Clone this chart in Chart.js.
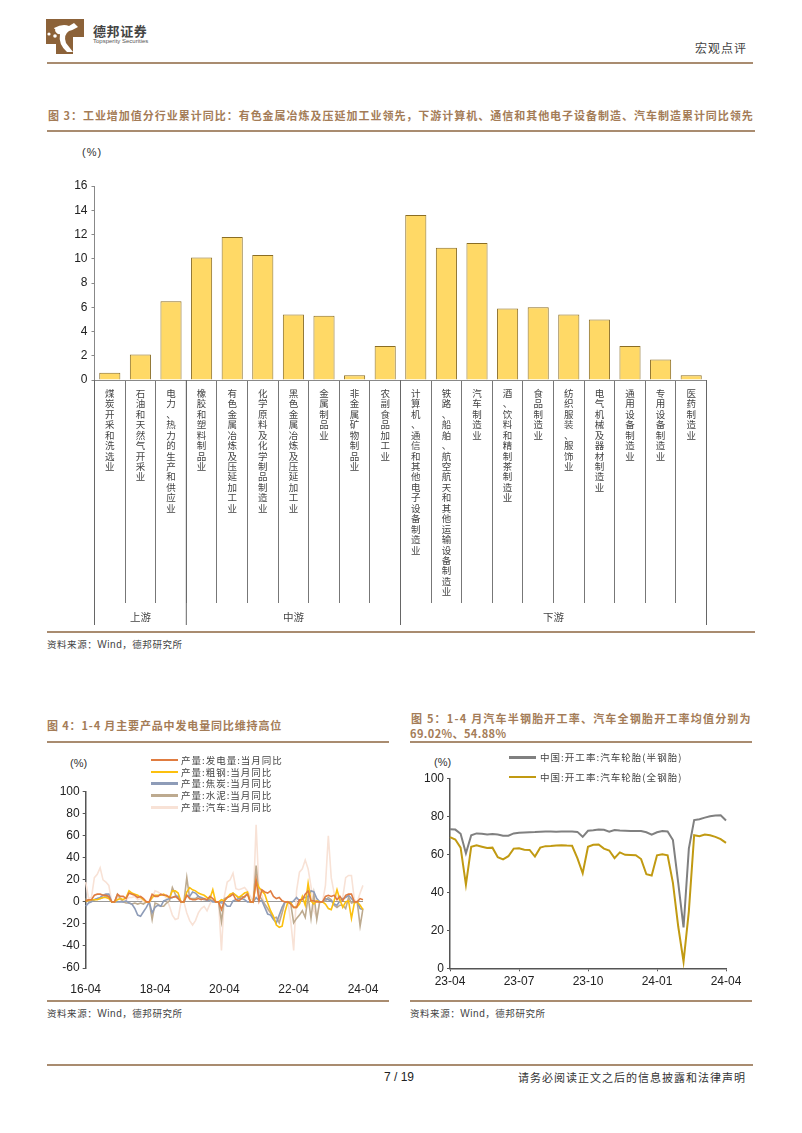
<!DOCTYPE html>
<html lang="zh"><head><meta charset="utf-8">
<script src="https://cdn.jsdelivr.net/npm/chart.js@4"></script>
<style>
html,body{margin:0;padding:0;background:#fff;width:802px;height:1133px;overflow:hidden}
body{position:relative;font-family:"Noto Sans CJK SC",sans-serif}
.t,.r,canvas,svg,.l{position:absolute}
.t{white-space:nowrap;line-height:14px;margin-top:-7px}
.r{height:2px;background:#a98c70}
.cap{color:#a47c57;font-weight:700;font-size:11px}
.src{color:#444;font-size:9.5px;letter-spacing:.55px}
.src b{font:400 10px "Liberation Sans"}
.unit{color:#333;font:11px/14px "Liberation Sans"}
.leg{color:#444;font-size:9.5px}
.l{height:2.5px}
</style></head><body>
<svg style="left:45px;top:19px" width="40" height="36" viewBox="0 0 40 36">
<path d="M1 0H39V18H28V35H11V25H1Z" fill="#8c6239"/>
<path d="M9 9Q18 4 24 7L29 4L33 8Q28 11 24 12Q18 16 21 24L28 33H22Q13 25 15 15Q11 16 9 9Z" fill="#fff"/>
<circle cx="4" cy="15" r="1.6" fill="#fff"/><circle cx="10" cy="17" r="1.8" fill="#fff"/><circle cx="9" cy="11" r="1.3" fill="#8c6239"/></svg>
<span class="t" style="left:93px;top:31px;font-size:13px;font-weight:700;color:#444;letter-spacing:.6px">德邦证券</span>
<span class="t" style="left:93px;top:41px;font:6px/14px 'Liberation Sans';color:#555">Topsperity Securities</span>
<span class="t" style="left:695px;top:48px;font-size:12px;color:#444;letter-spacing:1px">宏观点评</span>
<div class="r" style="left:47px;top:62px;width:706px"></div>

<span class="t cap" style="left:48px;top:115px;letter-spacing:.98px">图 3&#xFF1A;工业增加值分行业累计同比&#xFF1A;有色金属冶炼及压延加工业领先&#xFF0C;下游计算机、通信和其他电子设备制造、汽车制造累计同比领先</span>
<div class="r" style="left:47px;top:130px;width:708px"></div>
<span class="t unit" style="left:82px;top:152px;letter-spacing:1px">(%)</span>
<canvas id="c1" style="left:40px;top:170px" width="700" height="460"></canvas>
<div class="r" style="left:47px;top:631px;width:708px"></div>
<span class="t src" style="left:47px;top:644px">资料来源&#xFF1A;<b>Wind</b>&#xFF0C;德邦研究所</span>

<span class="t cap" style="left:47px;top:725px;letter-spacing:.85px">图 4&#xFF1A;1-4 月主要产品中发电量同比维持高位</span>
<div class="r" style="left:47px;top:741px;width:342px"></div>
<span class="t unit" style="left:70px;top:763px">(%)</span>
<canvas id="c2" style="left:40px;top:780px" width="350" height="215"></canvas>
<div id="lg2"></div>
<div class="r" style="left:47px;top:1000px;width:342px"></div>
<span class="t src" style="left:47px;top:1013px">资料来源&#xFF1A;<b>Wind</b>&#xFF0C;德邦研究所</span>

<span class="t cap" style="left:411px;top:718px;letter-spacing:1.2px">图 5&#xFF1A;1-4 月汽车半钢胎开工率、汽车全钢胎开工率均值分别为</span>
<span class="t cap" style="left:410px;top:733px;letter-spacing:.4px">69.02%、54.88%</span>
<div class="r" style="left:410px;top:741px;width:342px"></div>
<span class="t unit" style="left:434px;top:762px">(%)</span>
<canvas id="c3" style="left:400px;top:768px" width="350" height="227"></canvas>
<div id="lg3"></div>
<div class="r" style="left:410px;top:1000px;width:342px"></div>
<span class="t src" style="left:410px;top:1013px">资料来源&#xFF1A;<b>Wind</b>&#xFF0C;德邦研究所</span>

<div class="r" style="left:47px;top:1064px;width:706px"></div>
<span class="t" style="left:384px;top:1077px;font:12px/14px 'Liberation Sans';color:#222">7 / 19</span>
<span class="t" style="left:518px;top:1077px;font-size:11px;letter-spacing:1px;color:#333">请务必阅读正文之后的信息披露和法律声明</span>

<script>
const industries=["煤炭开采和洗选业","石油和天然气开采业","电力、热力的生产和供应业","橡胶和塑料制品业","有色金属冶炼及压延加工业","化学原料及化学制品制造业","黑色金属冶炼及压延加工业","金属制品业","非金属矿物制品业","农副食品加工业","计算机、通信和其他电子设备制造业","铁路、船舶、航空航天和其他运输设备制造业","汽车制造业","酒、饮料和精制茶制造业","食品制造业","纺织服装、服饰业","电气机械及器材制造业","通用设备制造业","专用设备制造业","医药制造业"];
const growth=[0.6,2.1,6.5,10.1,11.8,10.3,5.4,5.3,0.4,2.8,13.6,10.9,11.3,5.9,6.0,5.4,5.0,2.8,1.7,0.4];
const groupNames=["上游","中游","下游"];
const groupStarts=[0,3,10];
const groupEnds=[3,10,20];

const months=["16-04","16-05","16-06","16-07","16-08","16-09","16-10","16-11","16-12",
"17-01","17-02","17-03","17-04","17-05","17-06","17-07","17-08","17-09","17-10","17-11","17-12",
"18-01","18-02","18-03","18-04","18-05","18-06","18-07","18-08","18-09","18-10","18-11","18-12",
"19-01","19-02","19-03","19-04","19-05","19-06","19-07","19-08","19-09","19-10","19-11","19-12",
"20-01","20-02","20-03","20-04","20-05","20-06","20-07","20-08","20-09","20-10","20-11","20-12",
"21-01","21-02","21-03","21-04","21-05","21-06","21-07","21-08","21-09","21-10","21-11","21-12",
"22-01","22-02","22-03","22-04","22-05","22-06","22-07","22-08","22-09","22-10","22-11","22-12",
"23-01","23-02","23-03","23-04","23-05","23-06","23-07","23-08","23-09","23-10","23-11","23-12",
"24-01","24-02","24-03","24-04"];
const monthTicks=["16-04","18-04","20-04","22-04","24-04"];
const power=[1,2,2,6,7,7,6,6,5, 0,0,7,5,5,3,8,7,6,4,5,3, 0,0,7,5,5,7,6,6,4,4,5,3, 0,0,6,3,2,2,3,2,3,2,5,3, 0,0,-7,1,4,5,7,2,1,3,5,7, 0,0,20,1,11,9,8,10,5,3,4,1, 0,0,-2,-5,-5,2,2,7,10,1,1,0, 0,0,5,6,5,6,2,5,1,6,7,7, 0,0,3,2];
const steel=[0.5,1.5,2,2,2,3,4,4,3, 0,0,2,3,2,4,10,8,7,6,4,2, 0,0,4,6,6,6,7,5,4,10,10,8, 0,0,9,13,11,10,8,7,6,4,3,11, 0,0,2,1,4,7,8,6,4,6,8,9, 0,0,19,13,10,7,-1,-8,-13,-21,-23,-22, -9,0,-1,-5,-5,-2,5,-3,17,1,-2,1, 0,0,-2,-6,-7,1,11,2,-5,0,1,-15, -1,0,-3,-7];
const coke=[-4,-1,0,2,3,4,6,7,7, 0,0,0,0,0,1,-1,-2,-6,-12,-13,-9, -5,0,-10,-5,-3,-4,1,2,3,4,5,5, 0,0,6,5,9,8,5,4,3,1,2,0, 0,0,-1,-1,-4,-4,1,2,3,3,2,0, 0,0,4,1,1,-5,-11,-12,-16,-19,-12,-5, 0,0,-1,1,4,1,3,4,5,10,9,3, 0,0,3,2,1,-2,-3,1,3,4,6,3, 0,0,-6,-7];
const cement=[3,0,1,2,3,3,4,5,4, 0,0,7,3,0,-1,-1,-2,-1,-2,-1,-2, 0,0,-16,-1,-2,-4,-4,-1,1,13,7,3, 0,0,22,3,3,3,5,3,2,2,2,1, 0,0,-18,3,4,6,8,6,3,5,4,8, 0,0,33,6,2,-2,-6,-10,-15,-14,-19,-10, 0,0,-2,-19,-15,-12,-8,-14,5,-15,7,-16, 0,0,1,4,2,-3,-5,-3,-3,-6,4,-1, 0,0,-22,-6];
const car=[18,3,4,22,25,31,20,18,15, 0,0,4,2,0,2,4,4,5,2,3,0, 0,0,3,10,9,7,6,3,-4,-12,-16,-15, 0,0,-10,-17,-21,-17,-10,-6,-4,-8,-2,3, 0,0,-44,5,18,20,26,12,11,12,13,10, 5,0,70,10,6,-3,-8,-10,-15,-18,-16,-5, 0,0,-18,-44,10,27,30,38,30,14,-8,-14, 0,0,15,60,22,8,5,0,4,22,24,24, 2,0,8,15];
const s4Names=["产量:发电量:当月同比","产量:粗钢:当月同比","产量:焦炭:当月同比","产量:水泥:当月同比","产量:汽车:当月同比"];

const weeks=["23-04","23-04","23-04","23-05","23-05","23-05","23-05","23-06","23-06","23-06","23-06","23-06","23-06","23-07","23-07","23-07","23-07","23-08","23-08","23-08","23-08","23-09","23-09","23-09","23-09","23-09","23-10","23-10","23-10","23-11","23-11","23-11","23-11","23-12","23-12","23-12","23-12","23-12","23-12","24-01","24-01","24-01","24-01","24-02","24-02","24-02","24-03","24-03","24-03","24-03","24-04","24-04","24-04"];
const weekTicks=[0,13,26,39,52];
const semiSteel=[73.2,73,70.8,60.5,70,71,70.8,70.4,70.7,70.4,69.8,69.8,71,71.3,71.5,71.6,71.7,71.9,72,72,71.9,72,72,72,71.8,69.2,72.4,72.6,73,72.9,71.9,72.8,72.5,72.4,72.3,72.3,72.2,71.6,70.3,71.6,72.2,72,67.5,45,21.5,63,78,78.5,79.3,80,80.4,80.5,77.8];
const allSteel=[69,67.8,63.5,44,64,64.7,64,63.3,63.5,58.5,57.3,59,63,63.2,62.4,62.3,58.8,63.5,64.3,64.4,64.6,64.8,64.6,64.5,58,50,64,65,65.2,63,62,58,61,59.7,59.6,59.5,57.5,49.5,48.8,59.5,60,59.5,45,22,3.5,30,70,69.5,70.4,70,69.2,68,66];
const s5Names=["中国:开工率:汽车轮胎(半钢胎)","中国:开工率:汽车轮胎(全钢胎)"];

const tickFont={family:'"Liberation Sans"',size:12};
const tickCol='#222';
const fix=(prop,v)=>s=>{s[prop]=v;};

const groupPlugin={id:'groups',afterDraw(ch){
  const x=ch.scales.x,c=ch.ctx,y0=ch.chartArea.bottom;
  c.save();c.strokeStyle='#666';c.lineWidth=1;c.fillStyle='#444';
  c.font='10.5px "Noto Sans CJK SC"';c.textAlign='center';c.textBaseline='middle';
  const edges=[...groupStarts,groupEnds[groupEnds.length-1]];
  edges.forEach(e=>{const p=x.getPixelForValue(e-0.5);c.beginPath();c.moveTo(p,y0);c.lineTo(p,y0+245);c.stroke();});
  groupNames.forEach((n,i)=>{const m=(x.getPixelForValue(groupStarts[i]-0.5)+x.getPixelForValue(groupEnds[i]-0.5))/2;
    c.fillText(n,m,y0+237);});
  c.restore();
}};

new Chart(document.getElementById('c1'),{type:'bar',
 data:{labels:industries,datasets:[{label:'累计同比',data:growth,backgroundColor:'#ffd966',borderColor:'#8a6d24',borderWidth:1,barPercentage:.69,categoryPercentage:1}]},
 plugins:[groupPlugin],
 options:{responsive:false,animation:false,layout:{padding:{top:16,right:33.5,left:0,bottom:0}},
  plugins:{legend:{display:false},tooltip:{enabled:false}},
  scales:{
   x:{afterFit:fix('height',250),border:{color:'#888'},
    grid:{offset:true,drawOnChartArea:false,tickLength:223,color:'#777'},
    ticks:{autoSkip:false,maxRotation:0,minRotation:0,padding:-215,color:'#444',
      font:{family:'"Noto Sans CJK SC"',size:9.5,lineHeight:1.1},
      callback(v){return Array.from(this.getLabelForValue(v));}}},
   y:{min:0,max:16,afterFit:fix('width',54.5),border:{color:'#888'},
    grid:{drawOnChartArea:false,tickLength:3,color:'#888'},
    ticks:{stepSize:2,color:tickCol,font:tickFont,padding:4}}
  }}});

const colors4=['#e07c40','#fcc00e','#8e9cb8','#bdaa8f','#f8e2d6'];
new Chart(document.getElementById('c2'),{type:'line',
 data:{labels:months,datasets:[power,steel,coke,cement,car].map((d,i)=>({label:s4Names[i],data:d,borderColor:colors4[i],borderWidth:1.6,pointRadius:0,tension:0,fill:false}))},
 options:{responsive:false,animation:false,layout:{padding:{top:11.7,right:27,left:0,bottom:0}},
  plugins:{legend:{display:false},tooltip:{enabled:false}},
  scales:{
   x:{offset:false,afterFit:fix('height',27),
    afterBuildTicks(s){s.ticks=s.ticks.filter(t=>monthTicks.includes(months[t.value]));},
    border:{display:false},grid:{display:false},
    ticks:{autoSkip:false,maxRotation:0,minRotation:0,padding:6,color:tickCol,font:tickFont}},
   y:{min:-60,max:100,afterFit:fix('width',45.7),border:{color:'#555',width:1.5},
    grid:{drawOnChartArea:true,tickLength:3,tickColor:'#555',color:c=>c.tick.value===0?'#999':'rgba(0,0,0,0)'},
    ticks:{stepSize:20,color:tickCol,font:tickFont,padding:3}}
  }}});

new Chart(document.getElementById('c3'),{type:'line',
 data:{labels:weeks,datasets:[{label:s5Names[0],data:semiSteel,borderColor:'#808080',borderWidth:2,pointRadius:0,tension:0},{label:s5Names[1],data:allSteel,borderColor:'#c19a12',borderWidth:2,pointRadius:0,tension:0}]},
 options:{responsive:false,animation:false,layout:{padding:{top:10.3,right:24,left:0,bottom:0}},
  plugins:{legend:{display:false},tooltip:{enabled:false}},
  scales:{
   x:{offset:false,afterFit:fix('height',26.7),
    afterBuildTicks(s){s.ticks=s.ticks.filter(t=>weekTicks.includes(t.value));},
    border:{color:'#555',width:1.5},grid:{drawOnChartArea:false,tickLength:3,color:'#555'},
    ticks:{autoSkip:false,maxRotation:0,minRotation:0,padding:3,color:tickCol,font:tickFont}},
   y:{min:0,max:100,afterFit:fix('width',50),border:{color:'#555',width:1.5},
    grid:{drawOnChartArea:false,tickLength:3,color:'#555'},
    ticks:{stepSize:20,color:tickCol,font:tickFont,padding:3}}
  }}});

function legend(id,names,cols,x1,x2,xt,ys,ls){
  const h=document.getElementById(id);
  names.forEach((n,i)=>{
    const l=document.createElement('div');l.className='l';l.style.cssText=`left:${x1}px;width:${x2-x1}px;top:${ys[i]-1}px;background:${cols[i]}`;h.appendChild(l);
    const s=document.createElement('span');s.className='t leg';s.textContent=n;s.style.cssText=`left:${xt}px;top:${ys[i]}px;letter-spacing:${ls}px`;h.appendChild(s);
  });
}
legend('lg2',s4Names,colors4,151,178,181,[759.5,771.5,783,795,807],1);
legend('lg3',s5Names,['#808080','#c19a12'],509,536,540,[757,776.5],1.05);
</script>
</body></html>
